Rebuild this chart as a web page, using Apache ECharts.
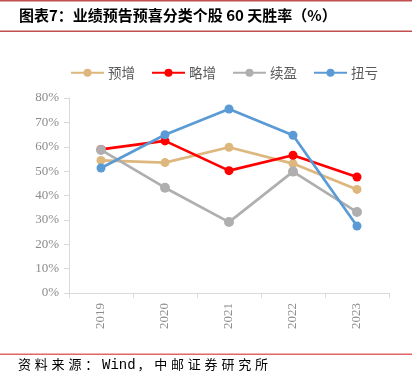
<!DOCTYPE html>
<html><head><meta charset="utf-8">
<script src="https://cdn.jsdelivr.net/npm/echarts@6/dist/echarts.min.js"></script>
<style>html,body{margin:0;padding:0;background:#fff}#c{width:412px;height:382px}</style>
</head><body><div id="c"></div>
<script>
const categories = ['2019','2020','2021','2022','2023'];
const yuZeng = [54.4, 53.5, 59.8, 53.1, 42.5];
const lueZeng = [58.9, 62.4, 50.2, 56.5, 47.6];
const xuYing = [58.7, 43.2, 29.1, 49.8, 33.2];
const niuKui = [51.3, 64.9, 75.5, 64.7, 27.5];
const seriesNames = ['预增','略增','续盈','扭亏'];
const colors = ['#DDB77D','#FF0000','#AFAFAF','#5B9BD5'];
const dataSets = [yuZeng, lueZeng, xuYing, niuKui];
const titleText = '图表7：业绩预告预喜分类个股 60 天胜率（%）';
const sourceText = '资料来源：Wind，中邮证券研究所';

// spaced source text: CJK characters placed one by one, ASCII runs in a monospace font
const sourceGraphics = [];
let sx = 18;
const parts = sourceText.match(/[\x00-\x7f]+|[^\x00-\x7f]/g);
for (const p of parts) {
  const ascii = p.charCodeAt(0) < 128;
  sourceGraphics.push({type: 'text', left: sx, top: ascii ? 358 : 358,
    style: {text: p, font: ascii ? '14px "Liberation Mono"' : '13px "Noto Sans CJK SC"', fill: '#000'}});
  sx += ascii ? 8.6 * p.length + 1 : 16.8;
}

const chart = echarts.init(document.getElementById('c'));
chart.setOption({
  animation: false,
  color: colors,
  legend: {
    top: 61, left: 65,
    itemWidth: 33, itemHeight: 10, itemGap: 16,
    textStyle: {fontSize: 13.5, color: '#595959', fontFamily: 'Noto Sans CJK SC', padding: [0, 0, 0, -1]},
    data: seriesNames
  },
  grid: {left: 69, right: 23, top: 98, bottom: 89},
  xAxis: {
    type: 'category', data: categories, boundaryGap: true,
    axisLine: {lineStyle: {color: '#D9D9D9'}},
    axisTick: {show: true, inside: false, length: 5, lineStyle: {color: '#D9D9D9'}},
    axisLabel: {rotate: 90, color: '#8C8C8C', fontSize: 13, fontFamily: 'Liberation Serif', margin: 10}
  },
  yAxis: {
    type: 'value', min: 0, max: 80, interval: 10,
    axisLine: {show: true, lineStyle: {color: '#D9D9D9'}},
    axisTick: {show: true, length: 5, lineStyle: {color: '#D9D9D9'}},
    splitLine: {show: false},
    axisLabel: {formatter: '{value}%', color: '#8C8C8C', fontSize: 13, fontFamily: 'Liberation Serif', margin: 10}
  },
  series: dataSets.map((d, i) => ({
    name: seriesNames[i], type: 'line', data: d,
    symbol: 'circle', symbolSize: i === 2 ? 10 : 9,
    lineStyle: {width: 2.7}, itemStyle: {color: colors[i]}
  })),
  graphic: [
    {type: 'rect', shape: {x: 0, y: 0, width: 412, height: 1.5}, style: {fill: '#C0504D'}},
    {type: 'rect', shape: {x: 0, y: 30.5, width: 412, height: 1.5}, style: {fill: '#C0504D'}},
    {type: 'text', left: 19, top: 8, style: {text: titleText, font: 'bold 15px "Noto Sans CJK SC"', fill: '#000'}},
    {type: 'rect', shape: {x: 0, y: 353.5, width: 412, height: 1.5}, style: {fill: '#E06666'}}
  ].concat(sourceGraphics)
});
</script></body></html>
